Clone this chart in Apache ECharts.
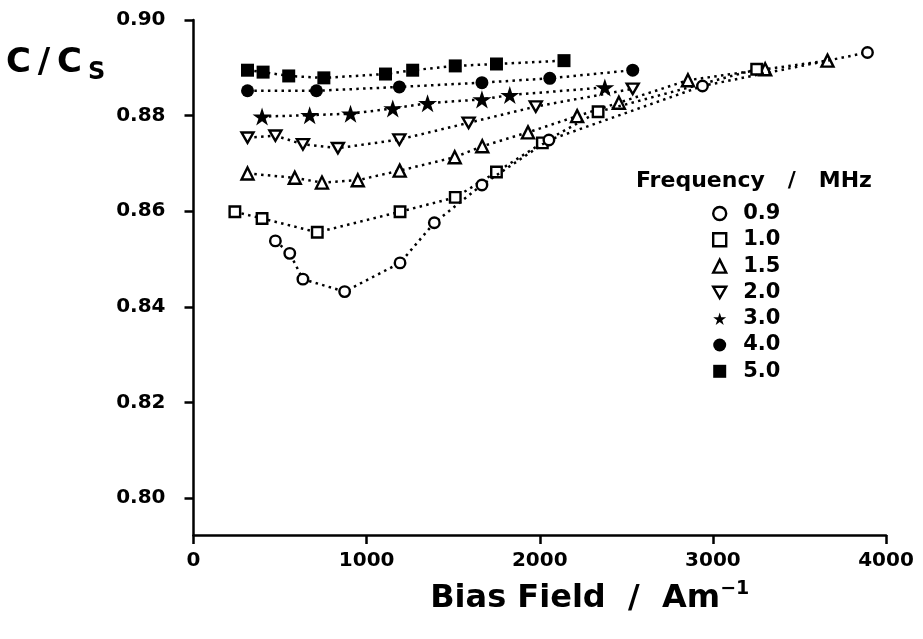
<!DOCTYPE html>
<html>
<head>
    <meta charset="utf-8">
    <title>C/Cs vs Bias Field</title>
    <script src="https://cdn.jsdelivr.net/npm/echarts@6/dist/echarts.min.js"></script>
    <style>
        html, body { margin: 0; padding: 0; background: #fff; }
        #main { width: 923px; height: 639px; }
    </style>
</head>
<body>
<div id="main"></div>
<script type="text/javascript">
    // values, one pair of arrays per frequency (MHz)
    var field09 = [473, 556, 632, 873, 1193, 1391, 1666, 2053, 2940, 3893];
    var ratio09 = [0.8538, 0.8512, 0.8458, 0.8432, 0.8492, 0.8576, 0.8655, 0.8749, 0.8862, 0.8932];
    var field10 = [239, 396, 715, 1193, 1512, 1750, 2015, 2337, 3253];
    var ratio10 = [0.8599, 0.8585, 0.8556, 0.8599, 0.8629, 0.8682, 0.8743, 0.8808, 0.8897];
    var field15 = [312, 585, 742, 949, 1191, 1509, 1668, 1932, 2216, 2457, 2856, 3302, 3662];
    var ratio15 = [0.8679, 0.8670, 0.8660, 0.8665, 0.8685, 0.8713, 0.8736, 0.8765, 0.8799, 0.8827, 0.8874, 0.8897, 0.8915];
    var field20 = [312, 473, 632, 834, 1189, 1589, 1977, 2537];
    var ratio20 = [0.8754, 0.8758, 0.8740, 0.8732, 0.8750, 0.8785, 0.8819, 0.8856];
    var field30 = [396, 671, 907, 1151, 1352, 1666, 1827, 2376];
    var ratio30 = [0.8798, 0.8801, 0.8804, 0.8815, 0.8826, 0.8834, 0.8843, 0.8859];
    var field40 = [312, 710, 1189, 1666, 2058, 2537];
    var ratio40 = [0.8852, 0.8852, 0.8860, 0.8869, 0.8878, 0.8895];
    var field50 = [312, 402, 550, 753, 1109, 1266, 1512, 1750, 2140];
    var ratio50 = [0.8895, 0.8891, 0.8883, 0.8879, 0.8887, 0.8895, 0.8904, 0.8908, 0.8915];

    var freqNames = ['0.9', '1.0', '1.5', '2.0', '3.0', '4.0', '5.0'];
    var yTicks = [0.80, 0.82, 0.84, 0.86, 0.88, 0.90];

    var FONT = 'DejaVu Sans';
    var downTri = 'path://M0,0L20,0L10,17.3Z';
    var star = 'path://M50,0L61.2,34.5L97.6,34.5L68.2,55.9L79.4,90.5L50,69.1L20.6,90.5L31.8,55.9L2.4,34.5L38.8,34.5Z';

    // marker per frequency: symbol, size, filled or open
    var marks = [
        {symbol: 'circle', size: 10.5, open: true},
        {symbol: 'rect', size: 10.5, open: true},
        {symbol: 'triangle', size: 12, open: true},
        {symbol: downTri, size: 12, open: true},
        {symbol: star, size: 19, open: false},
        {symbol: 'circle', size: 13, open: false},
        {symbol: 'rect', size: 13, open: false}
    ];

    function pairs(xs, ys) {
        var out = [];
        for (var i = 0; i < xs.length; i++) {
            out.push([xs[i], ys[i]]);
        }
        return out;
    }

    var allData = [
        pairs(field09, ratio09), pairs(field10, ratio10), pairs(field15, ratio15),
        pairs(field20, ratio20), pairs(field30, ratio30), pairs(field40, ratio40),
        pairs(field50, ratio50)
    ];

    function markStyle(m) {
        if (m.open) {
            return {color: '#fff', borderColor: '#000', borderWidth: 2.4};
        }
        return {color: '#000', borderColor: '#000', borderWidth: 0};
    }

    var series = [];
    var legendData = [];
    for (var i = 0; i < freqNames.length; i++) {
        series.push({
            name: freqNames[i],
            type: 'line',
            data: allData[i],
            symbol: marks[i].symbol,
            symbolSize: marks[i].size,
            symbolKeepAspect: true,
            showAllSymbol: true,
            lineStyle: {color: '#000', width: 2.5, type: [2.5, 4.3]},
            itemStyle: markStyle(marks[i]),
            z: 10 - i
        });
        legendData.push({
            name: freqNames[i],
            icon: marks[i].symbol,
            itemStyle: markStyle(marks[i])
        });
    }

    var myChart = echarts.init(document.getElementById('main'));

    myChart.setOption({
        animation: false,
        backgroundColor: '#fff',
        title: {
            text: 'Frequency   /   MHz',
            left: 636,
            top: 170,
            padding: 0,
            textStyle: {fontFamily: FONT, fontWeight: 'bold', fontSize: 22, color: '#000'}
        },
        legend: {
            orient: 'vertical',
            left: 712,
            top: 203,
            padding: 0,
            itemWidth: 13,
            itemHeight: 13,
            itemGap: 5.3,
            textStyle: {fontFamily: FONT, fontWeight: 'bold', fontSize: 21, color: '#000', padding: [0, 0, 0, 12]},
            data: legendData
        },
        grid: {left: 193.5, right: 37, top: 20, bottom: 104, containLabel: false},
        xAxis: {
            type: 'value',
            min: 0,
            max: 4000,
            interval: 1000,
            name: '{a|Bias Field  /  Am}{b|−1}',
            nameLocation: 'middle',
            nameGap: 45,
            nameTextStyle: {
                padding: [0, 0, 0, 100],
                rich: {
                    a: {fontFamily: FONT, fontWeight: 'bold', fontSize: 32, color: '#000', lineHeight: 38},
                    b: {fontFamily: FONT, fontWeight: 'bold', fontSize: 19, color: '#000', verticalAlign: 'top', lineHeight: 38, padding: [0, 0, 14, 0]}
                }
            },
            splitLine: {show: false},
            axisLine: {onZero: false, lineStyle: {color: '#000', width: 2.5}},
            axisTick: {inside: false, length: 9, lineStyle: {color: '#000', width: 2.5}},
            axisLabel: {
                margin: 16,
                fontFamily: FONT,
                fontWeight: 'bold',
                fontSize: 20,
                color: '#000',
                formatter: function (v) { return String(v); }
            }
        },
        yAxis: {
            type: 'value',
            min: 0.7923,
            max: 0.90,
            splitLine: {show: false},
            axisLine: {onZero: false, lineStyle: {color: '#000', width: 2.5}},
            axisTick: {length: 9, lineStyle: {color: '#000', width: 2.5}, customValues: yTicks},
            axisLabel: {
                margin: 28,
                fontFamily: FONT,
                fontWeight: 'bold',
                fontSize: 20,
                color: '#000',
                customValues: yTicks,
                formatter: function (v) { return v.toFixed(2); }
            }
        },
        graphic: [
            {
                type: 'text',
                left: 6,
                top: 46,
                style: {text: 'C\u2009/\u2009C', fontFamily: FONT, fontWeight: 'bold', fontSize: 34, fill: '#000'}
            },
            {
                type: 'text',
                left: 88,
                top: 61,
                style: {text: 'S', fontFamily: FONT, fontWeight: 'bold', fontSize: 24, fill: '#000'}
            }
        ],
        series: series
    });
</script>
</body>
</html>
